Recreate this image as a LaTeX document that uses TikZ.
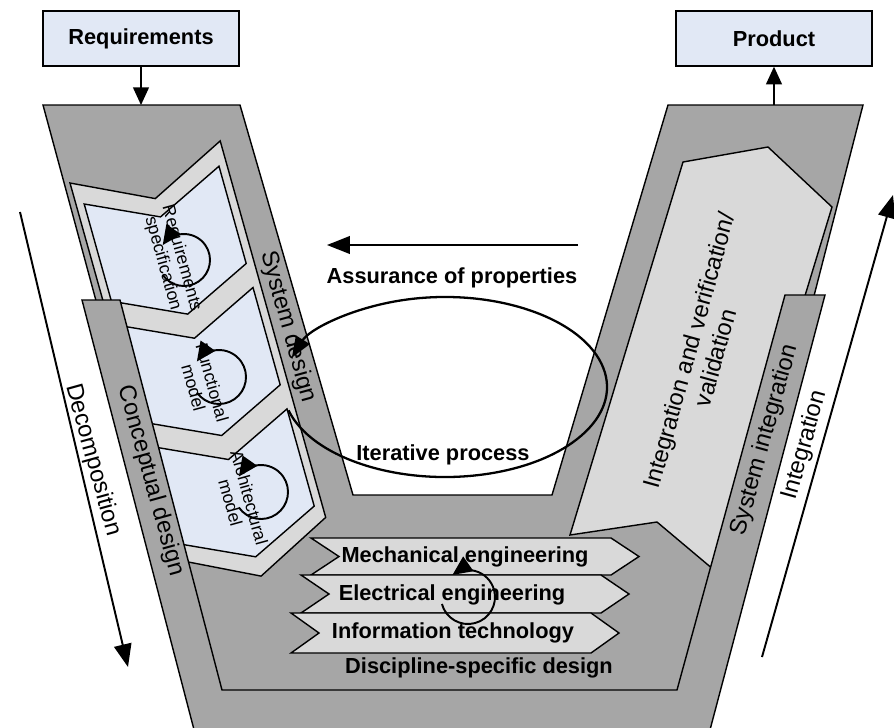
\documentclass[tikz,border=0pt]{standalone}
\usepackage{fontspec}
\setmainfont{Liberation Sans}
\usetikzlibrary{arrows.meta}
\definecolor{vgray}{RGB}{166,166,166}
\definecolor{lgray}{RGB}{217,217,217}
\definecolor{lblue}{RGB}{225,232,245}

\begin{document}
\begin{tikzpicture}[x=0.02cm,y=-0.02cm,
  >={Triangle[length=10pt,width=9pt]},
  outl/.style={draw=black,line width=.8pt},
  blab/.style={font=\bfseries\fontsize{12.4}{14}\selectfont},
  rlab/.style={font=\fontsize{13.5}{15.5}\selectfont,align=center},
  plab/.style={font=\fontsize{10}{11}\selectfont,align=center,rotate=-74.5},
  box/.style={outl,fill=lblue,blab,minimum width=3.92cm,minimum height=1.1cm,inner sep=0pt},
  chev/.style={outl,fill=lgray},
  panel/.style={outl,fill=lblue},
  cyc/.style={line width=1.1pt,-{Triangle[length=11pt,width=10pt]}},
  flow/.style={line width=1.1pt,-{Triangle[length=13pt,width=10pt]}}]
 \useasboundingbox (0,0) rectangle (894,728);
 \clip (0,0) rectangle (894,728);
 \node[box] (req) at (141,38.5) {Requirements};
 \node[box] (prod) at (774,38.5) {Product};
 \coordinate (vinL) at (141,105);
 \coordinate (voutR) at (774,105);
 \path[outl,fill=vgray] (43,105) -- (240,105) -- (353,495) -- (552,495) -- (668,105)
   -- (863,105) -- (700,740) -- (215,740) -- cycle;
 \path[chev] (683,162) -- (768,147) -- (832,207) -- (720,575) -- (657,522) -- (570,535) -- cycle;
 \path[chev] (70,183) -- (155.3,198.6) -- (220.2,140.9) -- (325.7,517.4) -- (261.1,576.1)
   -- (175.5,559.5) -- cycle;
 \path[panel] (84.2,204) -- (160.5,216.9) -- (219,166.2) -- (246.2,263.5) -- (187.7,314.1)
   -- (111.4,301.2) -- cycle;
 \path[panel] (118.2,325.3) -- (194.5,338.2) -- (253,287.5) -- (280.2,384.8) -- (221.7,435.5)
   -- (145.4,422.6) -- cycle;
 \path[panel] (152.1,446.6) -- (228.5,459.5) -- (287,408.9) -- (314.2,506.1) -- (255.7,556.8)
   -- (179.4,543.9) -- cycle;
 \path[outl,fill=vgray] (82,300) -- (120,300) -- (222,690) -- (677,690) -- (785,295)
   -- (825,295) -- (706,745) -- (198,745) -- cycle;
 \path[chev] (311,538) -- (611,538) -- (639,556.5) -- (611,575) -- (311,575) -- (339,556.5) -- cycle;
 \path[chev] (301,575) -- (601,575) -- (629,594) -- (601,613) -- (301,613) -- (329,594) -- cycle;
 \path[chev] (291,613) -- (591,613) -- (619,633) -- (591,653) -- (291,653) -- (319,633) -- cycle;
 \node[blab] (mech) at (465,557) {Mechanical engineering};
 \node[blab] (elec) at (452,595) {Electrical engineering};
 \node[blab] (info) at (453,633) {Information technology};
 \node[blab] (disc) at (479,668) {Discipline-specific design};
 \node[blab] (assur) at (452,278) {Assurance of properties};
 \node[blab] (iter) at (443,455) {Iterative process};
 \node[rlab,rotate=-74.5] (sysdes) at (288,327) {System design};
 \node[rlab,rotate=-74.5] (concdes) at (151,481) {Conceptual design};
 \node[rlab,rotate=-74.5] (decomp) at (93,460) {Decomposition};
 \node[rlab,rotate=74.5] (intver) at (702,354) {Integration and verification/\\validation};
 \node[rlab,rotate=74.5] (sysint) at (765,440) {System integration};
 \node[rlab,rotate=74.5] (integ) at (805,445) {Integration};
 \node[plab] (reqspec) at (172,261) {Requirements\\specification};
 \node[plab] (funcmod) at (203,385) {Functional\\model};
 \node[plab] (archmod) at (240,500) {Architectural\\model};
 \draw[cyc] (184,260) ++(-215:26) arc[start angle=-215,end angle=-505,radius=26];
 \draw[cyc] (219,377) ++(-215:27) arc[start angle=-215,end angle=-505,radius=27];
 \draw[cyc] (261,492) ++(-215:27) arc[start angle=-215,end angle=-505,radius=27];
 \draw[cyc] (468,597) ++(-195:27) arc[start angle=-195,end angle=-485,radius=27];
 \draw[line width=1.3pt,-{Triangle[length=12pt,width=9pt]}] (445,387) ++(-195:162 and 90)
   arc[start angle=-195,end angle=-521,x radius=162,y radius=90];
 \coordinate (asA) at (578,245);
 \coordinate (asB) at (327,245);
 \coordinate (decA) at (20,212);
 \coordinate (decB) at (128,667);
 \coordinate (intA) at (762,657);
 \coordinate (intB) at (893,195);
 \draw[->,thick] (req) -- (vinL);
 \draw[->,thick] (voutR) -- (prod);
 \draw[flow] (asA) -- (asB);
 \draw[flow] (decA) -- (decB);
 \draw[flow] (intA) -- (intB);
\end{tikzpicture}
\end{document}
